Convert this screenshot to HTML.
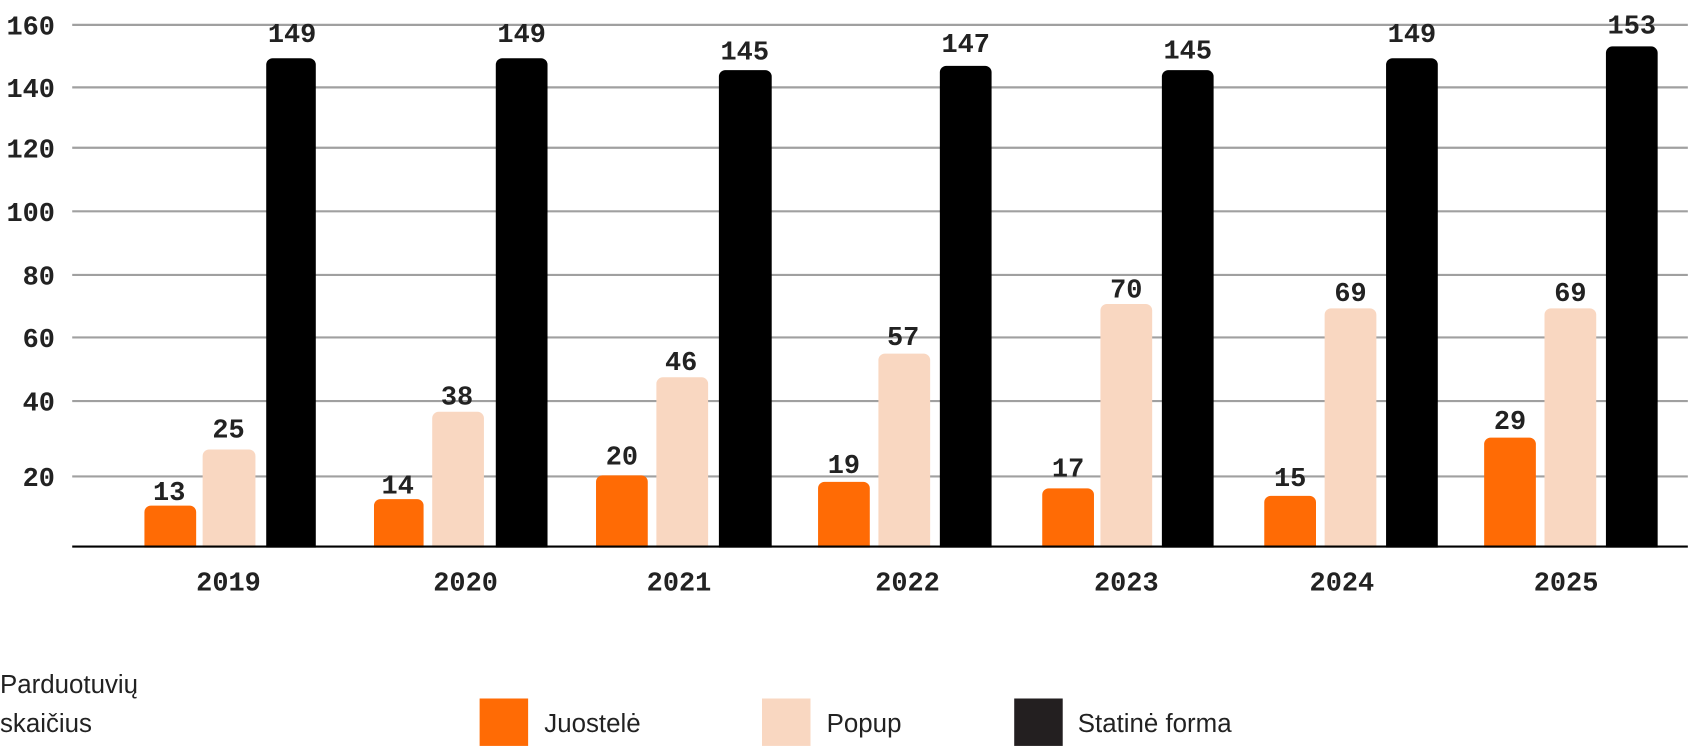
<!DOCTYPE html>
<html><head><meta charset="utf-8"><style>
html,body{margin:0;padding:0;background:#fff;}
svg{display:block;}
.n{font-family:"Liberation Mono",monospace;font-weight:bold;font-size:25px;fill:#222;}
.l{font-family:"Liberation Sans",sans-serif;font-size:24px;fill:#222;}
</style></head><body>
<svg width="1690" height="746" viewBox="0 0 1568 692" xmlns="http://www.w3.org/2000/svg">
<g stroke="#a0a0a0" stroke-width="2">
<line x1="67" x2="1566" y1="23" y2="23"/>
<line x1="67" x2="1566" y1="81" y2="81"/>
<line x1="67" x2="1566" y1="137" y2="137"/>
<line x1="67" x2="1566" y1="196" y2="196"/>
<line x1="67" x2="1566" y1="255" y2="255"/>
<line x1="67" x2="1566" y1="313" y2="313"/>
<line x1="67" x2="1566" y1="372" y2="372"/>
<line x1="67" x2="1566" y1="442" y2="442"/>
</g>
<g class="n" text-anchor="end">
<text x="51" y="32">160</text><text x="51" y="90">140</text><text x="51" y="146">120</text>
<text x="51" y="205">100</text><text x="51" y="264">80</text><text x="51" y="322">60</text>
<text x="51" y="381">40</text><text x="51" y="451">20</text>
</g>
<g>
<rect x="134" y="469" width="48" height="45" rx="6" fill="#ff6b05"/>
<rect x="188" y="417" width="49" height="97" rx="6" fill="#f9d7c1"/>
<rect x="247" y="54" width="46" height="460" rx="6" fill="#000"/>
<rect x="347" y="463" width="46" height="51" rx="6" fill="#ff6b05"/>
<rect x="401" y="382" width="48" height="132" rx="6" fill="#f9d7c1"/>
<rect x="460" y="54" width="48" height="460" rx="6" fill="#000"/>
<rect x="553" y="441" width="48" height="73" rx="6" fill="#ff6b05"/>
<rect x="609" y="350" width="48" height="164" rx="6" fill="#f9d7c1"/>
<rect x="667" y="65" width="49" height="449" rx="6" fill="#000"/>
<rect x="759" y="447" width="48" height="67" rx="6" fill="#ff6b05"/>
<rect x="815" y="328" width="48" height="186" rx="6" fill="#f9d7c1"/>
<rect x="872" y="61" width="48" height="453" rx="6" fill="#000"/>
<rect x="967" y="453" width="48" height="61" rx="6" fill="#ff6b05"/>
<rect x="1021" y="282" width="48" height="232" rx="6" fill="#f9d7c1"/>
<rect x="1078" y="65" width="48" height="449" rx="6" fill="#000"/>
<rect x="1173" y="460" width="48" height="54" rx="6" fill="#ff6b05"/>
<rect x="1229" y="286" width="48" height="228" rx="6" fill="#f9d7c1"/>
<rect x="1286" y="54" width="48" height="460" rx="6" fill="#000"/>
<rect x="1377" y="406" width="48" height="108" rx="6" fill="#ff6b05"/>
<rect x="1433" y="286" width="48" height="228" rx="6" fill="#f9d7c1"/>
<rect x="1490" y="43" width="48" height="471" rx="6" fill="#000"/>
</g>
<rect x="0" y="508" width="1568" height="184" fill="#fff"/>
<line x1="67" x2="1566" y1="507" y2="507" stroke="#000" stroke-width="2"/>
<g class="n" text-anchor="middle">
<text x="157" y="464">13</text><text x="212" y="406">25</text><text x="271" y="39">149</text>
<text x="369" y="458">14</text><text x="424" y="375">38</text><text x="484" y="39">149</text>
<text x="577" y="431">20</text><text x="632" y="343">46</text><text x="691" y="55">145</text>
<text x="783" y="439">19</text><text x="838" y="320">57</text><text x="896" y="48">147</text>
<text x="991" y="442">17</text><text x="1045" y="276">70</text><text x="1102" y="54">145</text>
<text x="1197" y="451">15</text><text x="1253" y="279">69</text><text x="1310" y="39">149</text>
<text x="1401" y="398">29</text><text x="1457" y="279">69</text><text x="1514" y="31">153</text>
</g>
<g class="n" text-anchor="middle">
<text x="212" y="548">2019</text><text x="432" y="548">2020</text><text x="630" y="548">2021</text>
<text x="842" y="548">2022</text><text x="1045" y="548">2023</text><text x="1245" y="548">2024</text>
<text x="1453" y="548">2025</text>
</g>
<text class="l" x="0" y="643">Parduotuvių</text>
<text class="l" x="0" y="679">skaičius</text>
<rect x="445" y="648" width="45" height="44" fill="#ff6b05"/>
<text class="l" x="505" y="679">Juostelė</text>
<rect x="707" y="648" width="45" height="44" fill="#f9d7c1"/>
<text class="l" x="767" y="679">Popup</text>
<rect x="941" y="648" width="45" height="44" fill="#231f20"/>
<text class="l" x="1000" y="679">Statinė forma</text>
</svg>
</body></html>
